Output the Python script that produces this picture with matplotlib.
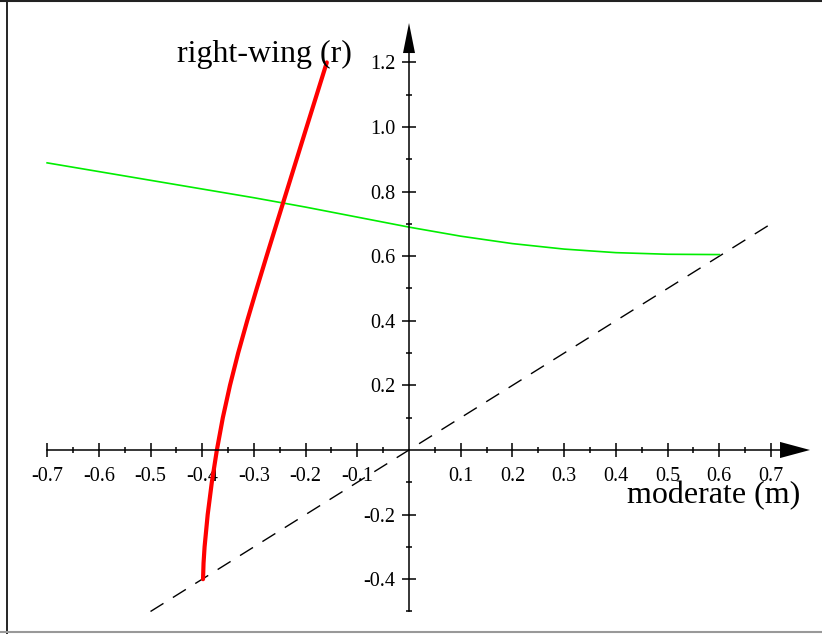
import matplotlib
matplotlib.use("Agg")
import matplotlib.pyplot as plt
from matplotlib.lines import Line2D
from matplotlib.ticker import FormatStrFormatter
import numpy as np

# curve data
red_y = [-0.40, -0.35, -0.30, -0.20, -0.10, 0.00, 0.10, 0.20, 0.30, 0.40, 0.50, 0.60, 0.70,
         0.80, 1.00, 1.20]
red_x = [-0.3984, -0.3974, -0.3954, -0.3894, -0.3814, -0.3716, -0.3601, -0.3463, -0.3305,
         -0.3130, -0.2945, -0.2755, -0.2562, -0.2368, -0.1980, -0.1590]

green_x = [-0.70, -0.60, -0.50, -0.40, -0.30, -0.20, -0.10, 0.00, 0.10, 0.20, 0.30, 0.40, 0.50, 0.60]
green_y = [0.889, 0.862, 0.835, 0.808, 0.781, 0.752, 0.721, 0.690, 0.662, 0.639, 0.622, 0.611,
           0.606, 0.605]

diag_x = [-0.5, 0.7]
diag_y = [-0.5, 0.7]

x_major = [-0.7, -0.6, -0.5, -0.4, -0.3, -0.2, -0.1, 0.1, 0.2, 0.3, 0.4, 0.5, 0.6, 0.7]
x_minor = [-0.65, -0.55, -0.45, -0.35, -0.25, -0.15, -0.05, 0.05, 0.15, 0.25, 0.35, 0.45,
           0.55, 0.65]
y_major = [-0.4, -0.2, 0.2, 0.4, 0.6, 0.8, 1.0, 1.2]
y_minor = [-0.5, -0.3, -0.1, 0.1, 0.3, 0.5, 0.7, 0.9, 1.1]

x_label = "moderate (m)"
y_label = "right-wing (r)"

plt.rcParams["font.family"] = ["Liberation Serif", "DejaVu Serif"]
plt.rcParams["axes.unicode_minus"] = False

fig = plt.figure(figsize=(8.22, 6.34), dpi=100)
ax = fig.add_axes([0, 0, 1, 1])
ax.set_xlim(-0.7911, 0.7988)
ax.set_ylim(-0.5697, 1.3932)
ax.patch.set_visible(False)

# axes crossing at the origin
for side in ["top", "right"]:
    ax.spines[side].set_visible(False)
ax.spines["left"].set_position(("data", 0))
ax.spines["bottom"].set_position(("data", 0))
ax.spines["bottom"].set_bounds(-0.7, 0.75)
ax.spines["left"].set_bounds(-0.5, 1.28)
for side in ["left", "bottom"]:
    ax.spines[side].set_linewidth(1.1)

ax.set_xticks(x_major)
ax.set_xticks(x_minor, minor=True)
ax.set_yticks(y_major)
ax.set_yticks(y_minor, minor=True)
ax.xaxis.set_major_formatter(FormatStrFormatter("%.1f"))
ax.yaxis.set_major_formatter(FormatStrFormatter("%.1f"))
ax.tick_params(which="major", direction="inout", length=10, width=1.1, labelsize=14.5)
ax.tick_params(which="minor", direction="inout", length=5, width=1.1)
ax.tick_params(axis="x", which="major", pad=7)
ax.tick_params(axis="y", which="major", pad=5)

# arrow heads at the ends of the axes
ax.fill([0.7176, 0.7756, 0.7176], [0.025, 0.0, -0.025], color="black", lw=0)
ax.fill([-0.0116, 0.0, 0.0116], [1.229, 1.322, 1.229], color="black", lw=0)

ax.plot(diag_x, diag_y, color="black", lw=1.0, dashes=(11, 8))
ax.plot(green_x, green_y, color="#00ee00", lw=1.2)
ax.plot(red_x, red_y, color="red", lw=3.0, solid_capstyle="round", solid_joinstyle="round")

ax.text(-0.279, 1.201, y_label, fontsize=23, ha="center", va="baseline")
ax.text(0.59, -0.166, x_label, fontsize=23, ha="center", va="baseline")

# frame around the picture
fig.add_artist(Line2D([7 / 822, 7 / 822], [0, 1], color="black", lw=1.2))
fig.add_artist(Line2D([0, 1], [1 - 1 / 634, 1 - 1 / 634], color="#222222", lw=1.5))
fig.add_artist(Line2D([0, 1], [2 / 634, 2 / 634], color="#999999", lw=1.5))

fig.savefig("out.png", dpi=100)
